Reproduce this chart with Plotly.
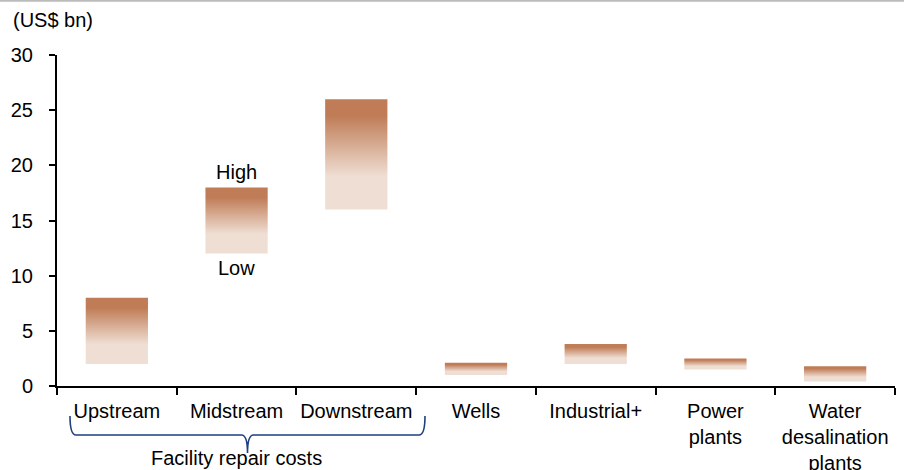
import plotly.graph_objects as go

categories = ["Upstream", "Midstream", "Downstream", "Wells", "Industrial+",
              "Power<br>plants", "Water<br>desalination<br>plants"]
low_values = [2, 12, 16, 1, 2, 1.5, 0.4]
high_values = [8, 18, 26, 2.1, 3.8, 2.5, 1.8]

FONT = "Arial, Liberation Sans, sans-serif"
DARK = "#BF7C56"
LIGHT = "#EFDED3"
FS = 20

L, R, T, B = 57, 9, 55, 84
W, H = 904, 470
PW, PH = W - L - R, H - T - B
N = len(categories)


def px2x(px):
    return (px - L) / PW * N


def py2y(py):
    return (H - B - py) / PH


fig = go.Figure()
half = 0.26
for i, (lo, hi) in enumerate(zip(low_values, high_values)):
    c = i + 0.5
    fig.add_trace(go.Scatter(
        x=[c - half, c + half, c + half, c - half, c - half],
        y=[lo, lo, hi, hi, lo],
        mode="lines", line=dict(width=0), fill="toself",
        fillgradient=dict(type="vertical",
                          colorscale=[[0, LIGHT], [0.3, LIGHT], [0.85, DARK], [1, DARK]]),
        hoverinfo="skip", showlegend=False,
    ))

annotations = [
    dict(x=1.5, y=high_values[1], text="High", showarrow=False, yanchor="bottom",
         yshift=2, font=dict(size=FS, family=FONT, color="black")),
    dict(x=1.5, y=low_values[1], text="Low", showarrow=False, yanchor="top",
         yshift=-1, font=dict(size=FS, family=FONT, color="black")),
    dict(xref="paper", yref="paper", x=0, y=py2y(20), xshift=-46, xanchor="left",
         yanchor="middle", text="(US$ bn)", showarrow=False,
         font=dict(size=FS, family=FONT, color="black")),
    dict(x=1.5, yref="paper", y=py2y(458), text="Facility repair costs", showarrow=False,
         yanchor="middle", font=dict(size=FS, family=FONT, color="black")),
]

# curly brace under the first three categories
x0, x1, xc = px2x(70), px2x(425), px2x(247.5)
ytop, ymid, ybot = py2y(416), py2y(435), py2y(453)
r = px2x(57 + 6)
path = (f"M {x0},{ytop} Q {x0},{ymid} {x0 + r},{ymid} L {xc - r},{ymid} "
        f"Q {xc},{ymid} {xc},{ybot} Q {xc},{ymid} {xc + r},{ymid} "
        f"L {x1 - r},{ymid} Q {x1},{ymid} {x1},{ytop}")

shapes = [
    dict(type="path", xref="x", yref="paper", path=path,
         line=dict(color="#1F3F7F", width=1.6)),
    dict(type="line", xref="paper", yref="paper", x0=-L / PW, x1=1 + R / PW,
         y0=py2y(0.8), y1=py2y(0.8), line=dict(color="#BBBBBB", width=2)),
]

fig.update_layout(
    width=W, height=H,
    margin=dict(l=L, r=R, t=T, b=B),
    plot_bgcolor="white", paper_bgcolor="white",
    font=dict(family=FONT, size=FS, color="black"),
    annotations=annotations, shapes=shapes,
    xaxis=dict(range=[0, N], tickmode="array",
               tickvals=[i + 0.5 for i in range(N)], ticktext=categories,
               ticks="", showgrid=False, zeroline=False, automargin=False,
               showline=True, linecolor="black", linewidth=2,
               ticklabelstandoff=6,
               tickfont=dict(size=FS, family=FONT, color="black"),
               minor=dict(tickmode="linear", tick0=0, dtick=1, ticks="outside",
                          ticklen=7, tickwidth=2, tickcolor="black", showgrid=False)),
    yaxis=dict(range=[0, 30], tickmode="linear", tick0=0, dtick=5,
               ticks="outside", ticklen=6, tickwidth=2, tickcolor="black",
               showgrid=False, zeroline=False, showline=True, automargin=False,
               linecolor="black", linewidth=2, ticklabelstandoff=12,
               tickfont=dict(size=FS, family=FONT, color="black")),
)

fig.write_html("out.html", config={"displayModeBar": False},
               post_script="document.body.style.margin='0';document.body.style.overflow='hidden';")
